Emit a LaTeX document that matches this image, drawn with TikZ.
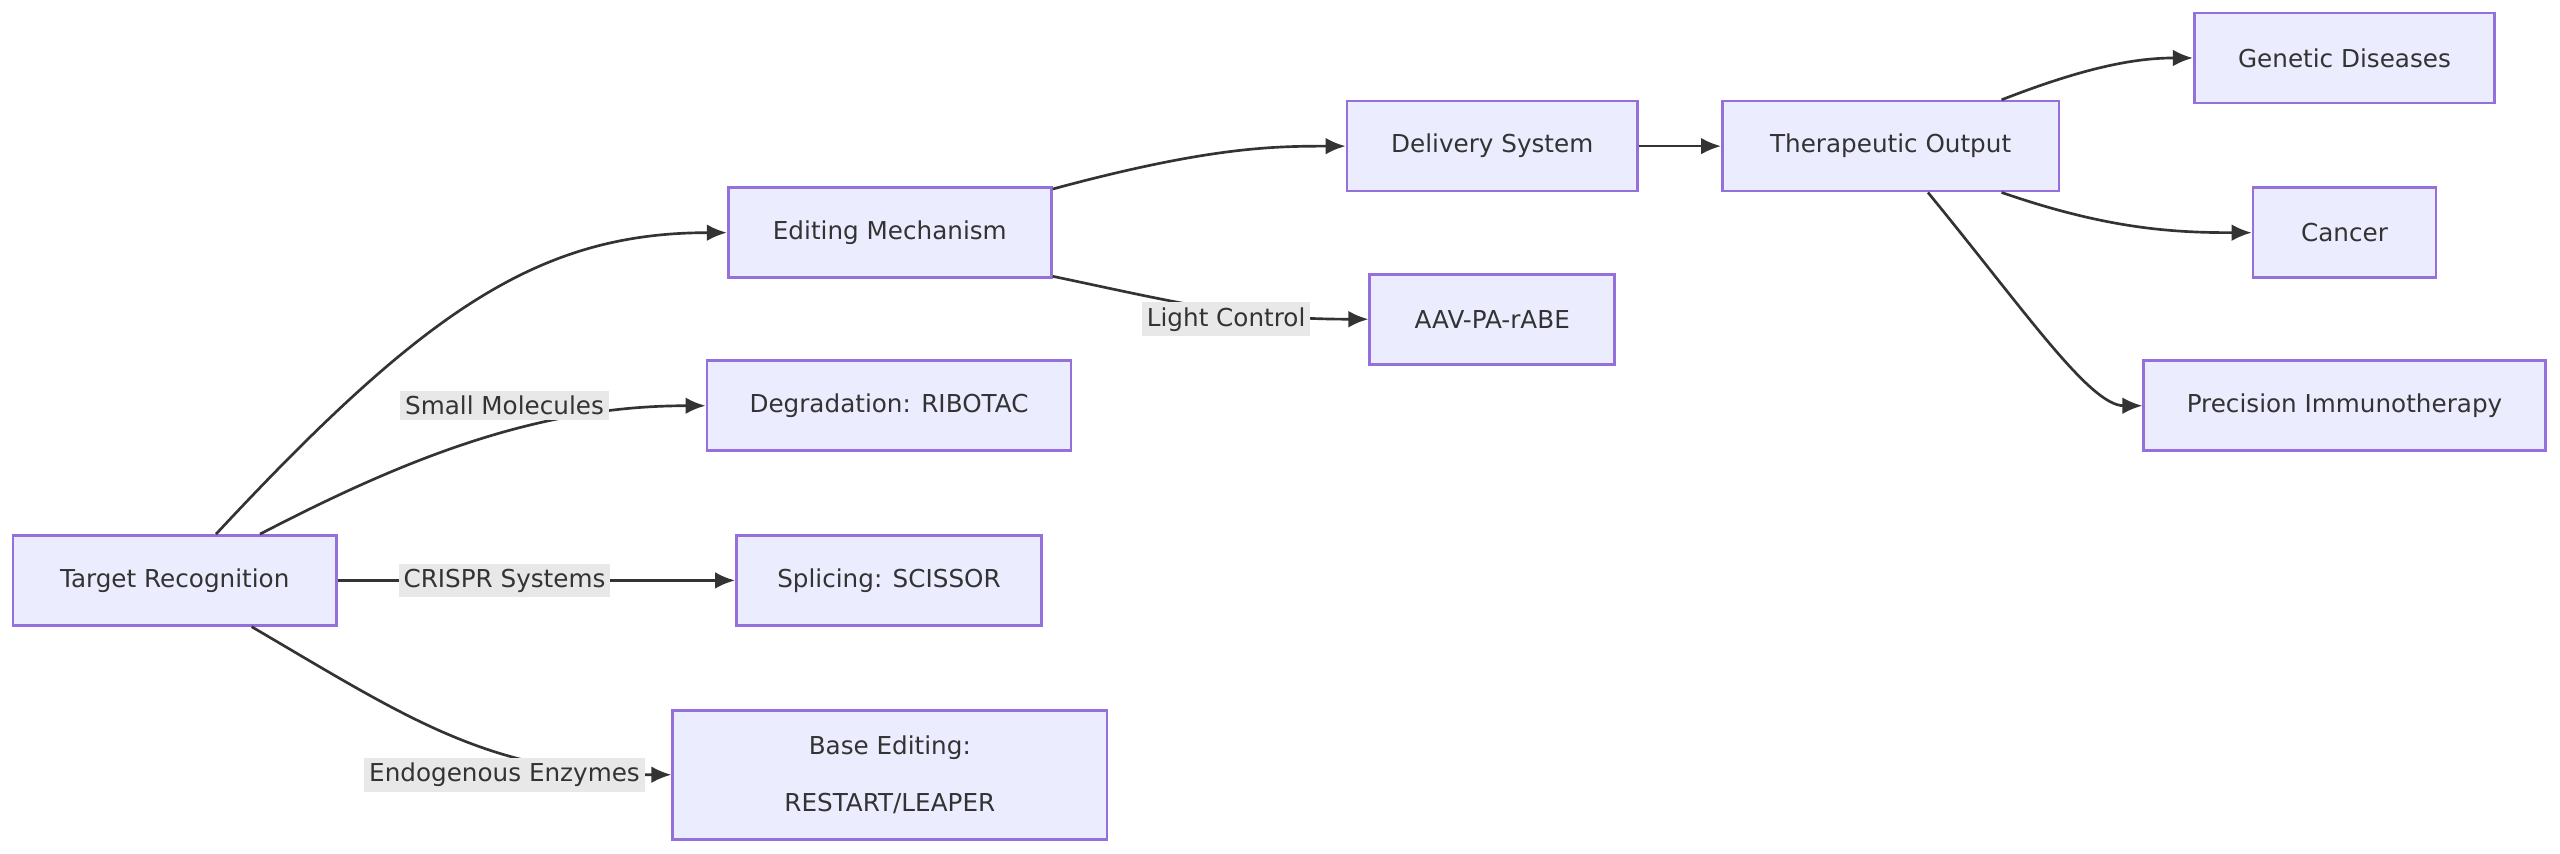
\documentclass[tikz,border=0pt]{standalone}
\usepackage{fontspec}
\setmainfont{DejaVu Sans}
\usetikzlibrary{arrows.meta}
\definecolor{nfill}{HTML}{ECECFF}
\definecolor{nstroke}{HTML}{9370DB}
\definecolor{edge}{HTML}{333333}
\definecolor{lbl}{HTML}{E8E8E8}
\begin{document}
\begin{tikzpicture}[x=0.49pt,y=-0.49pt,
  box/.style={draw=nstroke,fill=nfill,line width=0.8pt,minimum height=27pt,inner sep=0pt,font=\fontsize{7.4}{17}\selectfont,text=edge,align=center},
  arr/.style={draw=edge,line width=0.8pt,-{Latex[length=6pt,width=5pt]}},
  el/.style={fill=lbl,inner sep=1.5pt,font=\fontsize{7.4}{9}\selectfont,text=edge}]
\useasboundingbox (0,0) rectangle (1568,523);
\node[box,minimum width=97pt] (tr) at (107,355.5) {Target Recognition};
\node[box,minimum width=97pt] (em) at (545,142.5) {Editing Mechanism};
\node[box,minimum width=109.3pt] (deg) at (544.5,248.5) {Degradation: RIBOTAC};
\node[box,minimum width=91.6pt] (spl) at (544.5,355.5) {Splicing: SCISSOR};
\node[box,minimum width=130.3pt,minimum height=38.7pt] (be) at (545,474.5) {Base Editing:\\RESTART/LEAPER};
\node[box,minimum width=87.2pt] (ds) at (914,89.5) {Delivery System};
\node[box,minimum width=73.5pt] (aav) at (914,195.5) {AAV-PA-rABE};
\node[box,minimum width=101pt] (to) at (1158,89.5) {Therapeutic Output};
\node[box,minimum width=90.2pt] (gd) at (1436,35.5) {Genetic Diseases};
\node[box,minimum width=54.9pt] (ca) at (1436,142.5) {Cancer};
\node[box,minimum width=120.5pt] (pi) at (1436,248.5) {Precision Immunotherapy};

\draw[arr] ([xshift=61.3pt]tr.north west) .. controls (260,190) and (330,142.5) .. (em.west);
\draw[arr] ([xshift=74.5pt]tr.north west) .. controls (250,280) and (330,248.5) .. (deg.west);
\draw[arr] (tr.east) -- (spl.west);
\draw[arr] ([xshift=72pt]tr.south west) .. controls (250,440) and (300,474.5) .. (be.west);
\node[el] at (309,248.5) {Small Molecules};
\node[el] at (309,355.5) {CRISPR Systems};
\node[el] at (309,474.5) {Endogenous Enzymes};
\draw[arr] ([yshift=-0.8pt]em.north east) .. controls (740,90) and (780,89.5) .. (ds.west);
\draw[arr] ([yshift=0.8pt]em.south east) .. controls (720,185) and (760,195.5) .. (aav.west);
\node[el] at (751,195.5) {Light Control};
\draw[arr] (ds.east) -- (to.west);
\draw[arr] ([xshift=-17.6pt]to.north east) .. controls (1280,40) and (1310,35.5) .. (gd.west);
\draw[arr] ([xshift=-17.6pt]to.south east) .. controls (1290,140) and (1330,142.5) .. (ca.west);
\draw[arr] ([xshift=-39.7pt]to.south east) .. controls (1240,190) and (1280,248.5) .. (pi.west);
\end{tikzpicture}
\end{document}
